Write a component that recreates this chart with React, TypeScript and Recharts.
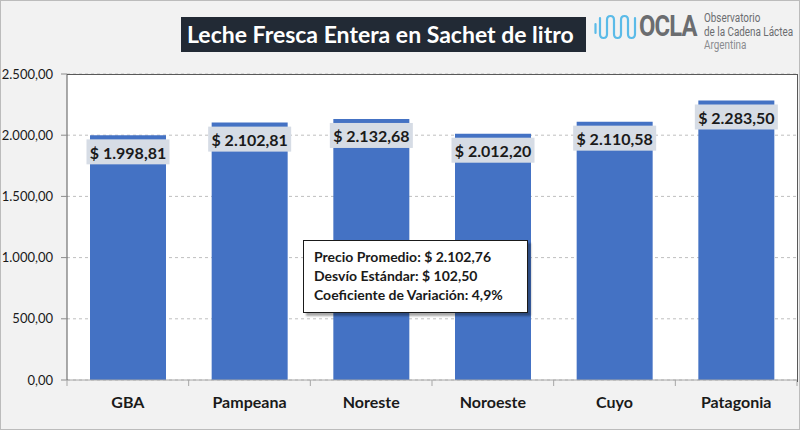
import React from 'react';
import { BarChart, Bar, XAxis, YAxis, CartesianGrid, LabelList } from 'recharts';

const regions = ['GBA', 'Pampeana', 'Noreste', 'Noroeste', 'Cuyo', 'Patagonia'];
const prices = [1998.81, 2102.81, 2132.68, 2012.2, 2110.58, 2283.5];
const yTicks = [0, 500, 1000, 1500, 2000, 2500];
const statLines = [
  'Precio Promedio: $ 2.102,76',
  'Desvío Estándar: $ 102,50',
  'Coeficiente de Variación: 4,9%',
];

const data = regions.map((region, i) => ({ region, price: prices[i] }));

const FONT = 'Lato, Carlito, Calibri, sans-serif';
const HALF_BAND = 730 / regions.length / 2;

// 1234.5 -> "1.234,50"
const fmt = (n: number) => {
  const [int, dec] = n.toFixed(2).split('.');
  return int.replace(/\B(?=(\d{3})+(?!\d))/g, '.') + ',' + dec;
};

const PriceLabel = (props: any) => {
  const { x, y, width, value } = props;
  const cx = x + width / 2;
  const w = 83;
  return (
    <g>
      <rect x={cx - w / 2} y={y + 4} width={w} height={25} fill="#d6dce5" />
      <text
        x={cx}
        y={y + 17}
        textAnchor="middle"
        dominantBaseline="central"
        fontFamily={FONT}
        fontWeight={700}
        fontSize={16}
        fill="#1a1a1a"
      >
        {'$ ' + fmt(value)}
      </text>
    </g>
  );
};

// category label plus the tick marks on the band edges
const RegionTick = (props: any) => {
  const { x, y, payload, index } = props;
  const last = index === regions.length - 1;
  return (
    <g>
      <line x1={x - HALF_BAND} x2={x - HALF_BAND} y1={380} y2={386} stroke="#a6a6a6" />
      {last && <line x1={x + HALF_BAND} x2={x + HALF_BAND} y1={380} y2={386} stroke="#a6a6a6" />}
      <text
        x={x}
        y={y + 7}
        textAnchor="middle"
        dominantBaseline="central"
        fontFamily={FONT}
        fontWeight={700}
        fontSize={16}
        fill="#1a1a1a"
      >
        {payload.value}
      </text>
    </g>
  );
};

const Logo = () => (
  <div style={{ position: 'absolute', left: 593, top: 9, display: 'flex', alignItems: 'flex-start' }}>
    <svg width={44} height={28} viewBox="0 0 44 28" style={{ marginTop: 3 }}>
      <path
        d="M1.5 11 V20 M6 5 V21 Q6 25 9.5 25 Q13 25 13 21 V7 Q13 3 16.5 3 Q20 3 20 7 V21 Q20 25 23.5 25 Q27 25 27 21 V7 Q27 3 30.5 3 Q34 3 34 7 V21 Q34 25 37.5 25 Q41 25 41 21 V5"
        stroke="#5bbbe8"
        strokeWidth={2.2}
        fill="none"
        strokeLinecap="round"
      />
    </svg>
    <div
      style={{
        fontFamily: 'Roboto, sans-serif',
        fontWeight: 700,
        fontSize: 29,
        color: '#6b6d70',
        letterSpacing: -1,
        transform: 'scaleX(0.82)',
        transformOrigin: 'left',
        lineHeight: '30px',
        marginTop: 1,
        marginLeft: 1,
        width: 65,
      }}
    >
      OCLA
    </div>
    <div
      style={{
        fontFamily: 'Roboto, sans-serif',
        fontSize: 12.5,
        color: '#6b6d70',
        lineHeight: '13.5px',
        transform: 'scaleX(0.79)',
        transformOrigin: 'left',
        whiteSpace: 'nowrap',
        marginTop: 1,
      }}
    >
      <div>Observatorio</div>
      <div>de la Cadena Láctea</div>
      <div style={{ color: '#8a8c8f' }}>Argentina</div>
    </div>
  </div>
);

export default function App() {
  return (
    <div
      style={{
        position: 'absolute',
        left: 0,
        top: 0,
        width: 800,
        height: 430,
        background: '#f2f2f2',
        boxSizing: 'border-box',
        border: '1px solid #bcbcbc',
        fontFamily: FONT,
        overflow: 'hidden',
      }}
    >
      <div style={{ position: 'absolute', left: -1, top: -1 }}>
        <BarChart width={800} height={430} data={data} margin={{ top: 74, right: 3, left: 0, bottom: 0 }}>
          <CartesianGrid vertical={false} stroke="#bfbfbf" strokeDasharray="3 3" fill="#ffffff" />
          <XAxis
            dataKey="region"
            height={50}
            axisLine={{ stroke: '#a6a6a6' }}
            tickLine={false}
            tick={<RegionTick />}
            tickMargin={8}
          />
          <YAxis
            width={67}
            domain={[0, 2500]}
            ticks={yTicks}
            tickFormatter={fmt}
            axisLine={{ stroke: '#595959' }}
            tickLine={{ stroke: '#8c8c8c' }}
            tickSize={6}
            tickMargin={8}
            tick={{ fill: '#1a1a1a', fontSize: 13, fontFamily: FONT }}
          />
          <Bar dataKey="price" fill="#4472c4" barSize={76} isAnimationActive={false}>
            <LabelList dataKey="price" content={PriceLabel} />
          </Bar>
        </BarChart>
      </div>

      {/* plot frame, top and right edges */}
      <div
        style={{
          position: 'absolute',
          left: 66,
          top: 73,
          width: 730,
          height: 307,
          borderTop: '1px solid #595959',
          borderRight: '1px solid #595959',
          pointerEvents: 'none',
        }}
      />

      <div
        style={{
          position: 'absolute',
          left: 180,
          top: 16,
          width: 405,
          height: 35,
          background: '#222a35',
          color: '#ffffff',
          fontSize: 23,
          fontWeight: 700,
          lineHeight: '35px',
          paddingLeft: 6,
          boxSizing: 'border-box',
          whiteSpace: 'nowrap',
        }}
      >
        Leche Fresca Entera en Sachet de litro
      </div>

      <Logo />

      <div
        style={{
          position: 'absolute',
          left: 302,
          top: 239,
          width: 225,
          height: 73,
          background: '#ffffff',
          border: '1px solid #1a1a1a',
          boxShadow: '3px 3px 2px rgba(0,0,0,0.35)',
          boxSizing: 'border-box',
          padding: '6px 0 0 10px',
          fontSize: 14,
          fontWeight: 700,
          lineHeight: '19px',
          color: '#1a1a1a',
          whiteSpace: 'nowrap',
        }}
      >
        {statLines.map((s) => (
          <div key={s}>{s}</div>
        ))}
      </div>
    </div>
  );
}
